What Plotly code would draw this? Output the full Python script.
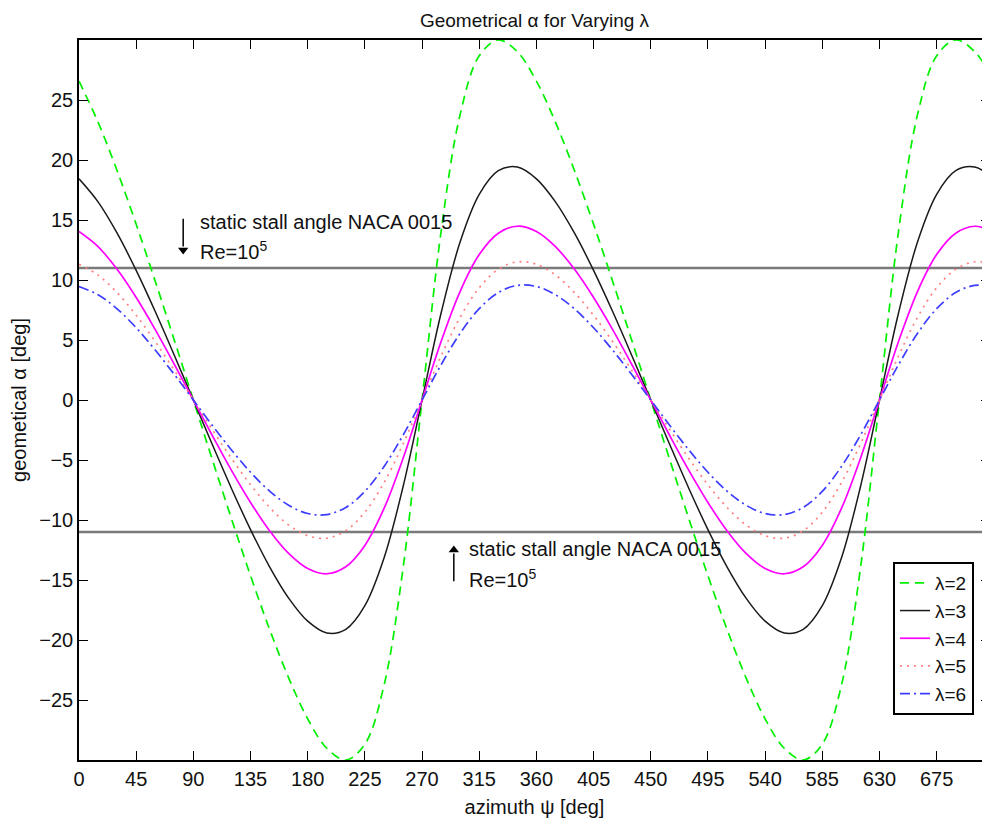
import plotly.graph_objects as go

# azimuth positions (deg)
psi = [0, 15, 30, 45, 60, 75, 90, 105, 120, 135, 150, 165, 180, 195, 210, 225, 240, 255, 270, 285, 300, 315, 330, 345,
       360, 375, 390, 405, 420, 435, 450, 465, 480, 495, 510, 525, 540, 555, 570, 585, 600, 615, 630, 645, 660, 675, 690, 705, 720]

alpha_l2 = [26.57, 23.15, 19.11, 14.64, 9.90, 4.99, 0.0, -4.99, -9.90, -14.64, -19.11, -23.15, -26.57, -29.02, -30.00, -28.68, -23.80, -14.05, 0.0, 14.05, 23.80, 28.68, 30.00, 29.02,
            26.57, 23.15, 19.11, 14.64, 9.90, 4.99, 0.0, -4.99, -9.90, -14.64, -19.11, -23.15, -26.57, -29.02, -30.00, -28.68, -23.80, -14.05, 0.0, 14.05, 23.80, 28.68, 30.00, 29.02, 26.57]
alpha_l3 = [18.43, 16.51, 13.90, 10.80, 7.37, 3.73, 0.0, -3.73, -7.37, -10.80, -13.90, -16.51, -18.43, -19.41, -19.11, -17.14, -13.19, -7.25, 0.0, 7.25, 13.19, 17.14, 19.11, 19.41,
            18.43, 16.51, 13.90, 10.80, 7.37, 3.73, 0.0, -3.73, -7.37, -10.80, -13.90, -16.51, -18.43, -19.41, -19.11, -17.14, -13.19, -7.25, 0.0, 7.25, 13.19, 17.14, 19.11, 19.41, 18.43]
alpha_l4 = [14.04, 12.78, 10.89, 8.54, 5.87, 2.98, 0.0, -2.98, -5.87, -8.54, -10.89, -12.78, -14.04, -14.48, -13.90, -12.12, -9.06, -4.88, 0.0, 4.88, 9.06, 12.12, 13.90, 14.48,
            14.04, 12.78, 10.89, 8.54, 5.87, 2.98, 0.0, -2.98, -5.87, -8.54, -10.89, -12.78, -14.04, -14.48, -13.90, -12.12, -9.06, -4.88, 0.0, 4.88, 9.06, 12.12, 13.90, 14.48, 14.04]
alpha_l5 = [11.31, 10.41, 8.95, 7.06, 4.87, 2.48, 0.0, -2.48, -4.87, -7.06, -8.95, -10.41, -11.31, -11.52, -10.89, -9.35, -6.90, -3.67, 0.0, 3.67, 6.90, 9.35, 10.89, 11.52,
            11.31, 10.41, 8.95, 7.06, 4.87, 2.48, 0.0, -2.48, -4.87, -7.06, -8.95, -10.41, -11.31, -11.52, -10.89, -9.35, -6.90, -3.67, 0.0, 3.67, 6.90, 9.35, 10.89, 11.52, 11.31]
alpha_l6 = [9.46, 8.77, 7.59, 6.02, 4.16, 2.13, 0.0, -2.13, -4.16, -6.02, -7.59, -8.77, -9.46, -9.55, -8.95, -7.61, -5.56, -2.94, 0.0, 2.94, 5.56, 7.61, 8.95, 9.55,
            9.46, 8.77, 7.59, 6.02, 4.16, 2.13, 0.0, -2.13, -4.16, -6.02, -7.59, -8.77, -9.46, -9.55, -8.95, -7.61, -5.56, -2.94, 0.0, 2.94, 5.56, 7.61, 8.95, 9.55, 9.46]

series_names = ["λ=2", "λ=3", "λ=4", "λ=5", "λ=6"]
stall_angle = 11
x_ticks = [0, 45, 90, 135, 180, 225, 270, 315, 360, 405, 450, 495, 540, 585, 630, 675]
y_ticks = [-25, -20, -15, -10, -5, 0, 5, 10, 15, 20, 25]

# annotation anchor positions (data coords)
upper_note_x, upper_arrow_x = 94, 82
lower_note_x, lower_arrow_x = 305.5, 295

FONT = "Liberation Sans, Arial, sans-serif"

fig = go.Figure()

# stall angle lines
for s in (stall_angle, -stall_angle):
    fig.add_trace(go.Scatter(x=[psi[0], psi[-1]], y=[s, s], mode="lines",
                             line=dict(color="#7a7a7a", width=2.5), showlegend=False, hoverinfo="skip"))

styles = [
    dict(color="#00f000", width=1.7, dash="9px,6px"),
    dict(color="#1a1a1a", width=1.5, dash="solid"),
    dict(color="#ff00ff", width=1.7, dash="solid"),
    dict(color="#ff7f7f", width=1.7, dash="2px,5px"),
    dict(color="#3d3dff", width=1.7, dash="10px,4px,2px,4px"),
]
for name, ys, st in zip(series_names, [alpha_l2, alpha_l3, alpha_l4, alpha_l5, alpha_l6], styles):
    fig.add_trace(go.Scatter(x=psi, y=ys, mode="lines", name=name,
                             line=dict(shape="spline", smoothing=1.0, **st)))

# arrows (shaft + head)
fig.add_trace(go.Scatter(x=[upper_arrow_x, upper_arrow_x], y=[15.1, 12.8], mode="lines",
                         line=dict(color="#000", width=1.5), showlegend=False, hoverinfo="skip"))
fig.add_trace(go.Scatter(x=[upper_arrow_x], y=[12.5], mode="markers",
                         marker=dict(symbol="triangle-down", size=9, color="#000"),
                         showlegend=False, hoverinfo="skip"))
fig.add_trace(go.Scatter(x=[lower_arrow_x, lower_arrow_x], y=[-15.1, -12.8], mode="lines",
                         line=dict(color="#000", width=1.5), showlegend=False, hoverinfo="skip"))
fig.add_trace(go.Scatter(x=[lower_arrow_x], y=[-12.5], mode="markers",
                         marker=dict(symbol="triangle-up", size=9, color="#000"),
                         showlegend=False, hoverinfo="skip"))

ann_font = dict(family=FONT, size=20, color="#111")
fig.add_annotation(x=upper_note_x, y=14.8, xref="x", yref="y", text="static stall angle NACA 0015",
                   showarrow=False, xanchor="left", yanchor="middle", font=ann_font)
fig.add_annotation(x=upper_note_x, y=12.5, xref="x", yref="y", text="Re=10<sup>5</sup>",
                   showarrow=False, xanchor="left", yanchor="middle", font=ann_font)
fig.add_annotation(x=lower_note_x, y=-12.4, xref="x", yref="y", text="static stall angle NACA 0015",
                   showarrow=False, xanchor="left", yanchor="middle", font=ann_font)
fig.add_annotation(x=lower_note_x, y=-14.9, xref="x", yref="y", text="Re=10<sup>5</sup>",
                   showarrow=False, xanchor="left", yanchor="middle", font=ann_font)

# page body has an 8px default margin: size the figure to fill the rest of the window
fig.update_layout(
    width=982, height=810,
    margin=dict(l=71, r=0, t=32, b=58, autoexpand=False),
    paper_bgcolor="white", plot_bgcolor="white",
    font=dict(family=FONT, size=20, color="#111"),
    title=dict(text="Geometrical α for Varying λ", x=0.5, xref="paper", xanchor="center",
               y=0.985, yanchor="middle", font=dict(size=19)),
    showlegend=True,
    legend=dict(x=0.8935, y=0.275, xanchor="left", yanchor="top", bgcolor="white",
                bordercolor="#000", borderwidth=2, font=dict(size=19),
                tracegroupgap=0, itemwidth=30),
)
fig.update_xaxes(range=[0, 717], tickvals=x_ticks, ticks="inside", ticklen=9, tickcolor="#000",
                 showline=True, linecolor="#000", linewidth=1.5, mirror="ticks", showgrid=False,
                 zeroline=False, tickfont=dict(size=20), automargin=False,
                 title=dict(text="azimuth ψ [deg]", font=dict(size=20), standoff=11))
fig.update_yaxes(range=[-30, 30], tickvals=y_ticks, ticks="inside", ticklen=9, tickcolor="#000",
                 showline=True, linecolor="#000", linewidth=1.5, mirror="ticks", showgrid=False,
                 zeroline=False, tickfont=dict(size=20), automargin=False,
                 title=dict(text="geometical α [deg]", font=dict(size=20), standoff=15))

fig.write_html("out.html")
